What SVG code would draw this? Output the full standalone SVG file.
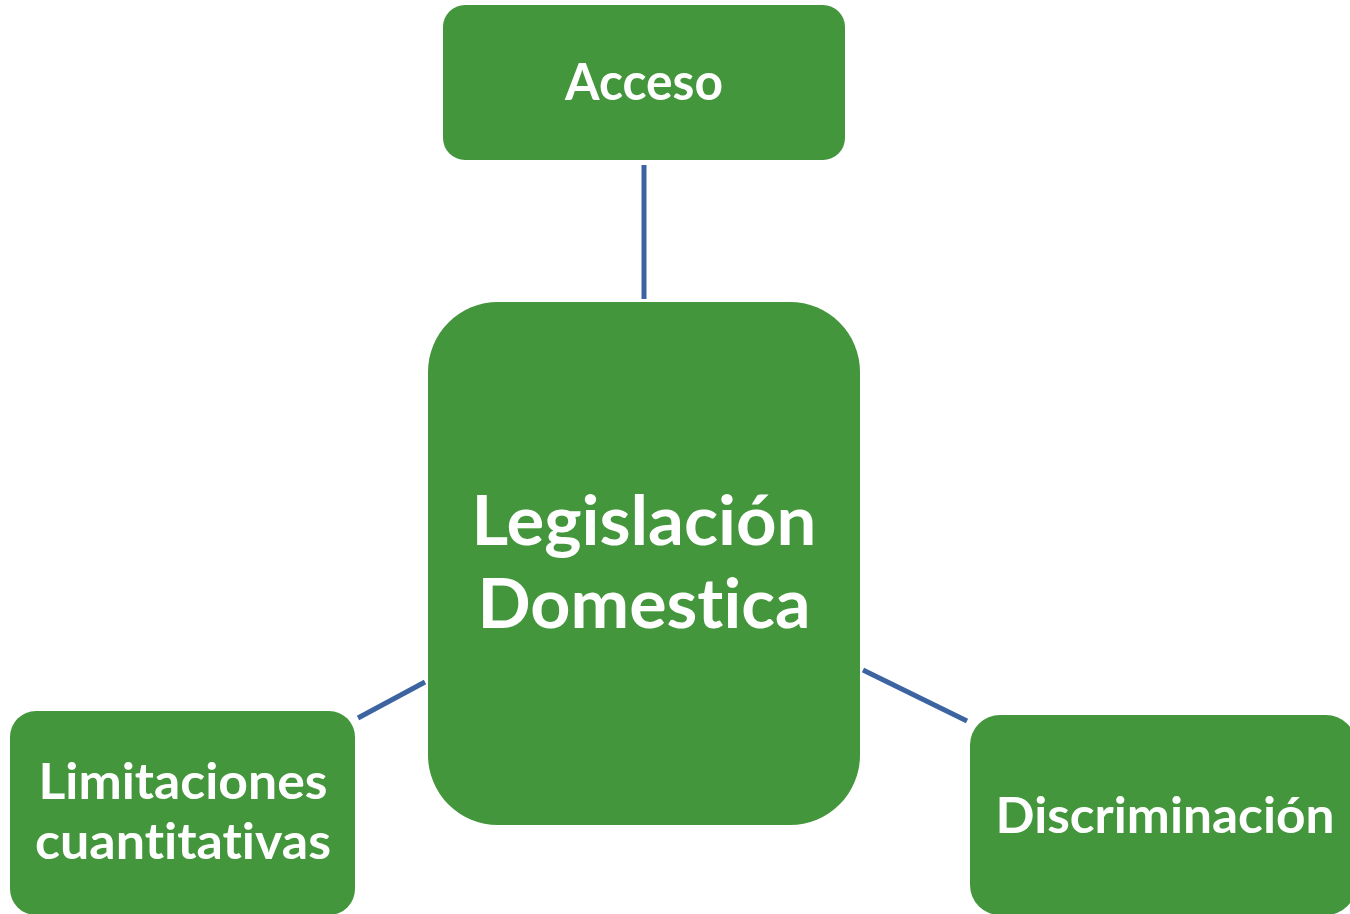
<svg xmlns="http://www.w3.org/2000/svg" width="1350" height="914" viewBox="0 0 1350 914">
<style>
.box{fill:#43963B;}
.t{fill:#FFFFFF;font-family:Lato,"Open Sans","Liberation Sans",sans-serif;font-weight:bold;text-anchor:middle;font-variant-ligatures:none;}
.c{stroke:#3C64A0;stroke-width:5;fill:none;}
</style>
<rect width="1350" height="914" fill="#FFFFFF"/>
<g id="connectors">
<line class="c" x1="644" y1="165" x2="644" y2="299"/>
<line class="c" x1="358" y1="718" x2="425" y2="682"/>
<line class="c" x1="863" y1="670" x2="967" y2="721"/>
</g>
<g id="node-acceso">
<rect class="box" x="443" y="5" width="402" height="155" rx="22"/>
<text class="t" x="644" y="100" font-size="52" textLength="158" lengthAdjust="spacingAndGlyphs">Acceso</text>
</g>
<g id="node-legislacion">
<rect class="box" x="428" y="302" width="432" height="523" rx="70"/>
<text class="t" x="644" y="545" font-size="69" textLength="345" lengthAdjust="spacingAndGlyphs">Legislación</text>
<text class="t" x="644" y="628" font-size="69" textLength="333" lengthAdjust="spacingAndGlyphs">Domestica</text>
</g>
<g id="node-limitaciones">
<rect class="box" x="10" y="711" width="345" height="204" rx="26"/>
<text class="t" x="183" y="799" font-size="50" textLength="289" lengthAdjust="spacingAndGlyphs">Limitaciones</text>
<text class="t" x="183" y="859" font-size="50" textLength="296" lengthAdjust="spacingAndGlyphs">cuantitativas</text>
</g>
<g id="node-discriminacion">
<rect class="box" x="970" y="715" width="386" height="200" rx="30"/>
<text class="t" x="1165" y="833" font-size="50" textLength="339" lengthAdjust="spacingAndGlyphs">Discriminación</text>
</g>
</svg>
